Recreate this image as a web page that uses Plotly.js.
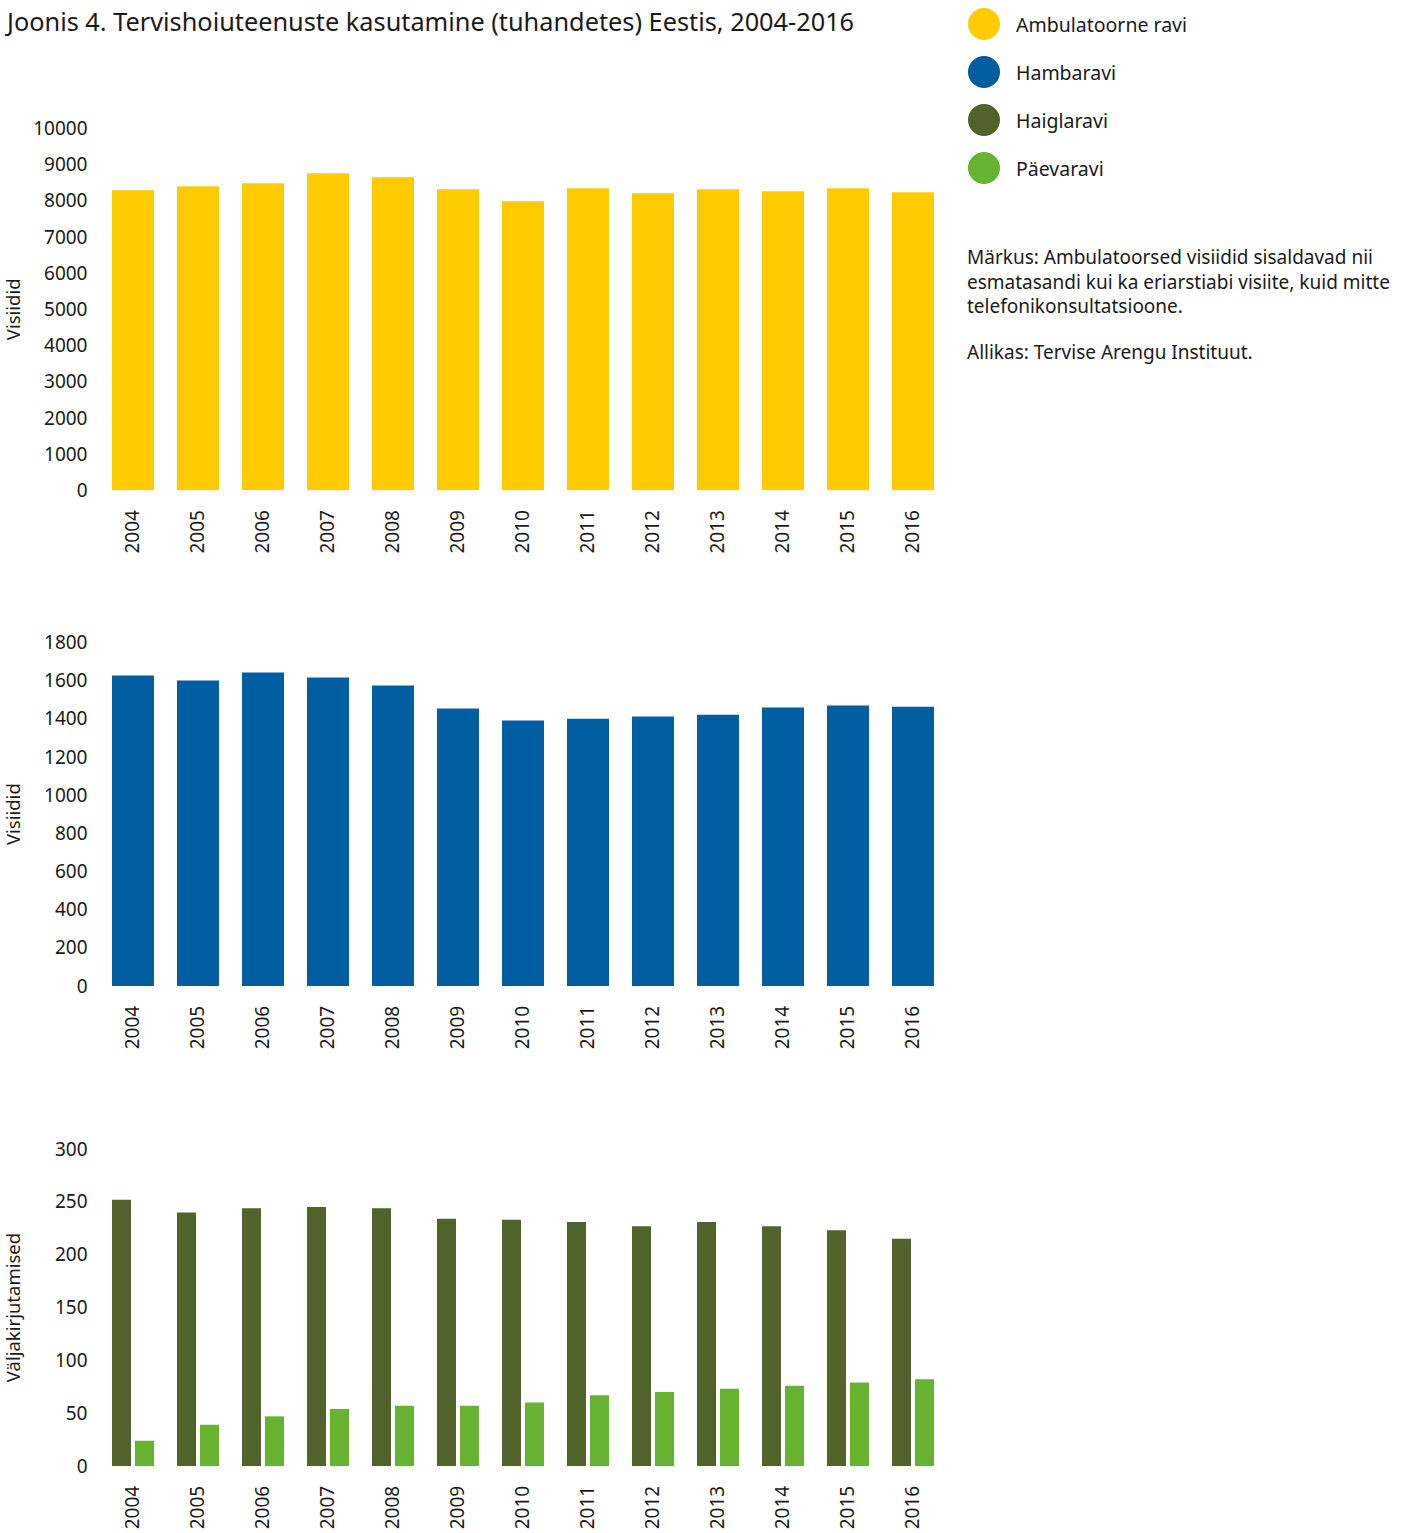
<!DOCTYPE html>
<html>
<head>
<meta charset="utf-8">
<script src="https://cdn.plot.ly/plotly-3.0.1.min.js"></script>
<style>html,body{margin:0;padding:0;background:#fff;}#chart{width:1407px;height:1533px;}</style>
</head>
<body>
<div id="chart"></div>
<script>
// ---- data ----
const years = ['2004','2005','2006','2007','2008','2009','2010','2011','2012','2013','2014','2015','2016'];
const seriesNames = ['Ambulatoorne ravi', 'Hambaravi', 'Haiglaravi', 'Päevaravi'];
const seriesColors = ['#FECB00', '#015EA1', '#51632B', '#67B331'];
const ambulatoorne = [8287, 8398, 8481, 8757, 8646, 8315, 7983, 8343, 8204, 8315, 8260, 8343, 8232];
const hambaravi = [1626, 1600, 1642, 1616, 1574, 1453, 1390, 1400, 1411, 1421, 1458, 1469, 1463];
const haiglaravi = [252, 240, 244, 245, 244, 234, 233, 231, 227, 231, 227, 223, 215];
const paevaravi = [24, 39, 47, 54, 57, 57, 60, 67, 70, 73, 76, 79, 82];
const yTitles = ['Visiidid', 'Visiidid', 'Väljakirjutamised'];
const titleText = 'Joonis 4. Tervishoiuteenuste kasutamine (tuhandetes) Eestis, 2004-2016';
const noteLines = ['Märkus: Ambulatoorsed visiidid sisaldavad nii',
                   'esmatasandi kui ka eriarstiabi visiite, kuid mitte',
                   'telefonikonsultatsioone.'];
const sourceText = 'Allikas: Tervise Arengu Instituut.';

// ---- layout helpers ----
const W = 1407, H = 1533;
const FONT = 'Noto Sans, Open Sans, sans-serif';
const TXT = '#1a1a1a';
const px = v => v / W;
const py = v => 1 - v / H;

const traces = [
  {type:'bar', x: years, y: ambulatoorne, name: seriesNames[0], marker:{color: seriesColors[0]}, xaxis:'x', yaxis:'y', width:0.646, showlegend:false},
  {type:'bar', x: years, y: hambaravi, name: seriesNames[1], marker:{color: seriesColors[1]}, xaxis:'x2', yaxis:'y2', width:0.646, showlegend:false},
  {type:'bar', x: years, y: haiglaravi, name: seriesNames[2], marker:{color: seriesColors[2]}, xaxis:'x3', yaxis:'y3', showlegend:false},
  {type:'bar', x: years, y: paevaravi, name: seriesNames[3], marker:{color: seriesColors[3]}, xaxis:'x3', yaxis:'y3', showlegend:false}
];

const xDomain = [px(100.5), px(945.5)];
function xAxis(anchor) {
  return {
    domain: xDomain, anchor: anchor, type:'category',
    showgrid:false, zeroline:false, showline:false, ticks:'',
    tickangle:-90, ticklabelstandoff: 15,
    tickfont:{family: FONT, size:19, color: TXT},
    fixedrange:true
  };
}
function yAxis(anchor, dom, range, dtick, title, standoff) {
  return {
    domain: dom, anchor: anchor, range: range, dtick: dtick, tick0:0,
    tickformat:'d', showgrid:false, zeroline:false, showline:false, ticks:'',
    ticklabelstandoff: 12,
    tickfont:{family: FONT, size:19, color: TXT},
    title:{text: title, font:{family: FONT, size:18.5, color: TXT}, standoff: standoff},
    fixedrange:true
  };
}

const shapes = [];
const annotations = [];
const legendY = [24, 72, 120, 168];
seriesNames.forEach((n, i) => {
  shapes.push({type:'circle', xref:'paper', yref:'paper',
    x0: px(968), x1: px(1000), y0: py(legendY[i] + 16), y1: py(legendY[i] - 16),
    fillcolor: seriesColors[i], line:{width:0}});
  annotations.push({xref:'paper', yref:'paper', x: px(1014), y: py(legendY[i]),
    xanchor:'left', yanchor:'middle', showarrow:false, text: n,
    font:{family: FONT, size:19.5, color: TXT}});
});
annotations.push({xref:'paper', yref:'paper', x: px(966), y: py(281.5), xanchor:'left', yanchor:'middle',
  align:'left', showarrow:false, text: noteLines.join('<br>'), borderpad:0,
  font:{family: FONT, size:19, color: TXT}});
annotations.push({xref:'paper', yref:'paper', x: px(966), y: py(352), xanchor:'left', yanchor:'middle',
  align:'left', showarrow:false, text: sourceText, borderpad:0, font:{family: FONT, size:19, color: TXT}});

const layout = {
  width: W, height: H,
  margin:{l:0, r:0, t:0, b:0, pad:0},
  paper_bgcolor:'#fff', plot_bgcolor:'#fff',
  showlegend:false,
  barmode:'group', bargap:0.292, bargroupgap:0.174,
  title:{text: titleText, xref:'container', yref:'container', x: px(7), xanchor:'left', y: py(22), yanchor:'middle',
    font:{family: FONT, size:25.3, color: TXT}},
  xaxis: xAxis('y'),
  yaxis: yAxis('x', [py(490.3), py(128.3)], [0, 10000], 1000, yTitles[0], 11),
  xaxis2: xAxis('y2'),
  yaxis2: yAxis('x2', [py(986), py(642.3)], [0, 1800], 200, yTitles[1], 22),
  xaxis3: xAxis('y3'),
  yaxis3: yAxis('x3', [py(1466), py(1149)], [0, 300], 50, yTitles[2], 33),
  shapes: shapes,
  annotations: annotations,
  font:{family: FONT, color: TXT}
};

Plotly.newPlot('chart', traces, layout, {displayModeBar:false, staticPlot:true});
</script>
</body>
</html>
